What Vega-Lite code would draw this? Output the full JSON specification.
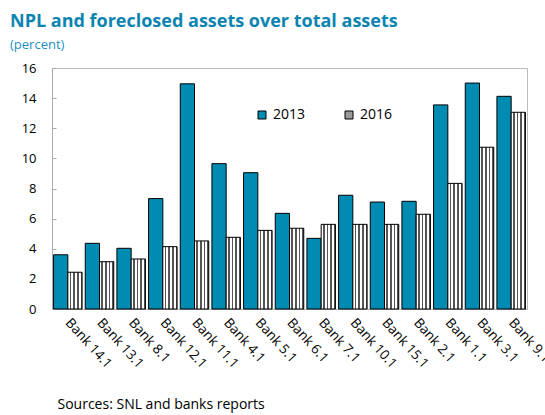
{
  "$schema": "https://vega.github.io/schema/vega-lite/v6.json",
  "width": 475,
  "height": 241,
  "autosize": "none",
  "padding": {"left": 52, "top": 68, "right": 18, "bottom": 106},
  "background": "white",
  "title": {
    "text": "NPL and foreclosed assets over total assets",
    "subtitle": "(percent)",
    "anchor": "start",
    "frame": "group",
    "dx": -42,
    "offset": 10,
    "font": "Open Sans",
    "fontSize": 18,
    "fontWeight": "bold",
    "color": "#0b84b2",
    "subtitleFont": "Open Sans",
    "subtitleFontSize": 13,
    "subtitleColor": "#1e8fc4",
    "subtitlePadding": 8
  },
  "data": {
    "values": [
      {"bank": "Bank 14.1", "year": "2013", "value": 3.6},
      {"bank": "Bank 14.1", "year": "2016", "value": 2.44},
      {"bank": "Bank 13.1", "year": "2013", "value": 4.36},
      {"bank": "Bank 13.1", "year": "2016", "value": 3.14},
      {"bank": "Bank 8.1", "year": "2013", "value": 4.03},
      {"bank": "Bank 8.1", "year": "2016", "value": 3.32},
      {"bank": "Bank 12.1", "year": "2013", "value": 7.33},
      {"bank": "Bank 12.1", "year": "2016", "value": 4.14},
      {"bank": "Bank 11.1", "year": "2013", "value": 14.95},
      {"bank": "Bank 11.1", "year": "2016", "value": 4.52},
      {"bank": "Bank 4.1", "year": "2013", "value": 9.65},
      {"bank": "Bank 4.1", "year": "2016", "value": 4.76},
      {"bank": "Bank 5.1", "year": "2013", "value": 9.05},
      {"bank": "Bank 5.1", "year": "2016", "value": 5.22},
      {"bank": "Bank 6.1", "year": "2013", "value": 6.35},
      {"bank": "Bank 6.1", "year": "2016", "value": 5.36},
      {"bank": "Bank 7.1", "year": "2013", "value": 4.69},
      {"bank": "Bank 7.1", "year": "2016", "value": 5.62},
      {"bank": "Bank 10.1", "year": "2013", "value": 7.55},
      {"bank": "Bank 10.1", "year": "2016", "value": 5.62},
      {"bank": "Bank 15.1", "year": "2013", "value": 7.1},
      {"bank": "Bank 15.1", "year": "2016", "value": 5.62},
      {"bank": "Bank 2.1", "year": "2013", "value": 7.15},
      {"bank": "Bank 2.1", "year": "2016", "value": 6.29},
      {"bank": "Bank 1.1", "year": "2013", "value": 13.55},
      {"bank": "Bank 1.1", "year": "2016", "value": 8.34},
      {"bank": "Bank 3.1", "year": "2013", "value": 15.0},
      {"bank": "Bank 3.1", "year": "2016", "value": 10.74},
      {"bank": "Bank 9.1", "year": "2013", "value": 14.12},
      {"bank": "Bank 9.1", "year": "2016", "value": 13.06}
    ]
  },
  "mark": {"type": "bar", "stroke": "#000000", "strokeWidth": 1, "opacity": 1},
  "encoding": {
    "x": {
      "field": "bank",
      "type": "nominal",
      "sort": null,
      "scale": {"paddingInner": 0.1, "paddingOuter": 0.05},
      "axis": {
        "title": "Sources: SNL and banks reports",
        "titleAnchor": "start",
        "titleX": 5,
        "titleY": 99,
        "titleBaseline": "alphabetic",
        "titleFont": "Open Sans",
        "titleFontSize": 14,
        "titleFontWeight": "normal",
        "titleColor": "#000000",
        "ticks": false,
        "labelAngle": 48,
        "labelAlign": "left",
        "labelBaseline": "middle",
        "labelPadding": 11,
        "labelFont": "Open Sans",
        "labelFontSize": 13.5,
        "labelColor": "#000000",
        "domainColor": "#aaaaaa"
      }
    },
    "xOffset": {"field": "year", "type": "nominal"},
    "y": {
      "field": "value",
      "type": "quantitative",
      "scale": {"domain": [0, 16]},
      "axis": {
        "title": null,
        "values": [0, 2, 4, 6, 8, 10, 12, 14, 16],
        "grid": false,
        "tickSize": -4,
        "labelPadding": 20,
        "tickColor": "#aaaaaa",
        "domainColor": "#aaaaaa",
        "labelFont": "Open Sans",
        "labelFontSize": 13,
        "labelColor": "#000000"
      }
    },
    "fill": {
      "condition": {
        "test": "datum.year === '2016'",
        "value": {
          "gradient": "linear",
          "x1": 0, "y1": 0, "x2": 1, "y2": 0,
          "stops": [
            {"offset": 0.0, "color": "#ffffff"},
            {"offset": 0.14, "color": "#ffffff"},
            {"offset": 0.14, "color": "#555555"},
            {"offset": 0.25, "color": "#555555"},
            {"offset": 0.25, "color": "#ffffff"},
            {"offset": 0.39, "color": "#ffffff"},
            {"offset": 0.39, "color": "#555555"},
            {"offset": 0.5, "color": "#555555"},
            {"offset": 0.5, "color": "#ffffff"},
            {"offset": 0.64, "color": "#ffffff"},
            {"offset": 0.64, "color": "#555555"},
            {"offset": 0.75, "color": "#555555"},
            {"offset": 0.75, "color": "#ffffff"},
            {"offset": 0.89, "color": "#ffffff"},
            {"offset": 0.89, "color": "#555555"},
            {"offset": 1.0, "color": "#555555"}
          ]
        }
      },
      "field": "year",
      "type": "nominal",
      "scale": {"range": ["#008bb2", "#999999"]},
      "legend": {
        "title": null,
        "orient": "none",
        "legendX": 203,
        "legendY": 40,
        "direction": "horizontal",
        "columnPadding": 36,
        "symbolType": "square",
        "symbolSize": 64,
        "symbolStrokeColor": "#000000",
        "symbolStrokeWidth": 1,
        "symbolOpacity": 1,
        "labelFont": "Open Sans",
        "labelFontSize": 14,
        "labelColor": "#000000",
        "labelOffset": 4,
        "encode": {
          "symbols": {
            "update": {
              "stroke": {"value": "#000000"},
              "strokeWidth": {"value": 1},
              "fill": {"signal": "datum.label === '2016' ? {gradient: 'linear', x1: 0, y1: 0, x2: 1, y2: 1, stops: [{offset: 0, color: '#ffffff'}, {offset: 0.2, color: '#ffffff'}, {offset: 0.2, color: '#444444'}, {offset: 0.4, color: '#444444'}, {offset: 0.4, color: '#ffffff'}, {offset: 0.6, color: '#ffffff'}, {offset: 0.6, color: '#444444'}, {offset: 0.8, color: '#444444'}, {offset: 0.8, color: '#ffffff'}, {offset: 1, color: '#ffffff'}]} : '#008bb2'"}
            }
          }
        }
      }
    }
  },
  "config": {
    "view": {"stroke": "#bbbbbb"},
    "font": "Open Sans"
  }
}
